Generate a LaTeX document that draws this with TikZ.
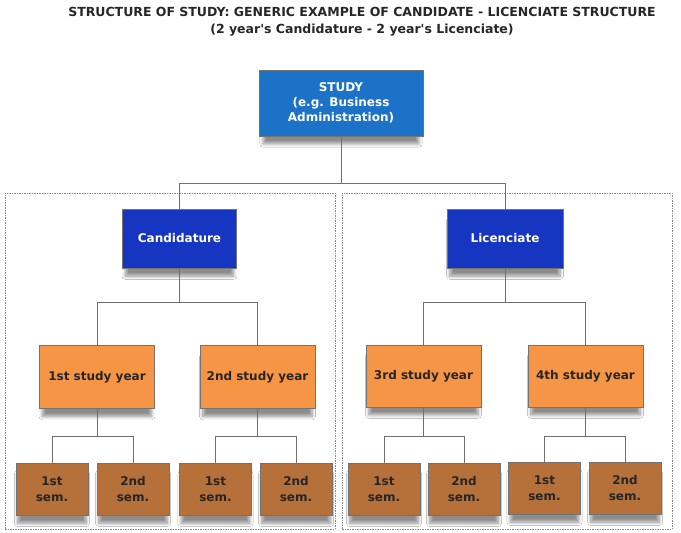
\documentclass[tikz,border=0pt]{standalone}
\usepackage{fontspec}
\setmainfont{DejaVu Sans}[Ligatures=TeXOff]
\usetikzlibrary{shadows.blur}
\definecolor{studyblue}{HTML}{1C72C6}
\definecolor{phaseblue}{HTML}{1636C2}
\definecolor{yearorange}{HTML}{F79547}
\definecolor{sembrown}{HTML}{B6703A}
\definecolor{framegray}{HTML}{8A8A8A}
\definecolor{linegray}{HTML}{707070}
\tikzset{
  base/.style={draw=black!55, line width=0.8pt, align=center, inner sep=0pt,
    font=\bfseries\fontsize{12}{15}\selectfont,
    blur shadow={shadow xshift=0pt, shadow yshift=-10pt, shadow scale=0.95, shadow blur radius=3.5pt, shadow blur steps=8, shadow opacity=45}},
  studybox/.style={base, fill=studyblue, text=white, minimum width=164pt, minimum height=66pt},
  phasebox/.style={base, fill=phaseblue, text=white, minimum width=114pt, minimum height=59pt},
  yearbox/.style={base, fill=yearorange, text=black!85, minimum width=115pt, minimum height=63pt},
  sembox/.style={base, fill=sembrown, text=black!85, minimum width=72pt, minimum height=52pt,
    font=\bfseries\fontsize{12}{16}\selectfont},
  framebox/.style={draw=framegray, dash pattern=on 1.5pt off 1pt, line width=0.7pt, inner sep=0pt},
  conn/.style={draw=linegray, line width=0.8pt},
  titletext/.style={font=\bfseries\fontsize{12.5}{17}\selectfont, text=black!85, align=center, inner sep=0pt}
}
\begin{document}
\begin{tikzpicture}[x=1pt,y=-1pt]
\useasboundingbox (0,0) rectangle (681,533);
\fill[white] (0,0) rectangle (681,533);

\node[titletext] (title) at (362,22) {STRUCTURE OF STUDY: GENERIC EXAMPLE OF CANDIDATE - LICENCIATE STRUCTURE\\(2 year's Candidature - 2 year's Licenciate)};

\node[framebox, minimum width=330pt, minimum height=336pt] (leftframe) at (170,361) {};
\node[framebox, minimum width=330pt, minimum height=336pt] (rightframe) at (507,361) {};

\node[studybox] (study) at (341,103) {STUDY\\(e.g. Business\\Administration)};

\node[phasebox] (cand) at (179.5,238.5) {Candidature};
\node[phasebox, minimum width=116pt] (lic) at (505,238.5) {Licenciate};

\node[yearbox] (y1) at (97,377) {1st study year};
\node[yearbox] (y2) at (257.5,377) {2nd study year};
\node[yearbox, minimum height=62pt] (y3) at (423.5,376) {3rd study year};
\node[yearbox, minimum height=62pt] (y4) at (585.5,376) {4th study year};

\node[sembox] (s1) at (52,489) {1st\\sem.};
\node[sembox] (s2) at (133,489) {2nd\\sem.};
\node[sembox] (s3) at (215.5,489) {1st\\sem.};
\node[sembox] (s4) at (296,489) {2nd\\sem.};
\node[sembox] (s5) at (384,489) {1st\\sem.};
\node[sembox] (s6) at (464,489) {2nd\\sem.};
\node[sembox] (s7) at (544.5,488) {1st\\sem.};
\node[sembox] (s8) at (625,488) {2nd\\sem.};

\coordinate (j0) at (341,183);
\coordinate (j1) at (179.5,302);
\coordinate (j2) at (505,302);
\coordinate (j3) at (97,436);
\coordinate (j4) at (257.5,436);
\coordinate (j5) at (423.5,436);
\coordinate (j6) at (585.5,436);

\draw[conn] (study.south) -- (j0);
\draw[conn] (j0) -| (cand.north);
\draw[conn] (j0) -| (lic.north);

\draw[conn] (cand.south) -- (j1);
\draw[conn] (j1) -| (y1.north);
\draw[conn] (j1) -| (y2.north);
\draw[conn] (lic.south) -- (j2);
\draw[conn] (j2) -| (y3.north);
\draw[conn] (j2) -| (y4.north);

\draw[conn] (y1.south) -- (j3);
\draw[conn] (j3) -| (s1.north);
\draw[conn] (j3) -| (s2.north);
\draw[conn] (y2.south) -- (j4);
\draw[conn] (j4) -| (s3.north);
\draw[conn] (j4) -| (s4.north);
\draw[conn] (y3.south) -- (j5);
\draw[conn] (j5) -| (s5.north);
\draw[conn] (j5) -| (s6.north);
\draw[conn] (y4.south) -- (j6);
\draw[conn] (j6) -| (s7.north);
\draw[conn] (j6) -| (s8.north);
\end{tikzpicture}
\end{document}
